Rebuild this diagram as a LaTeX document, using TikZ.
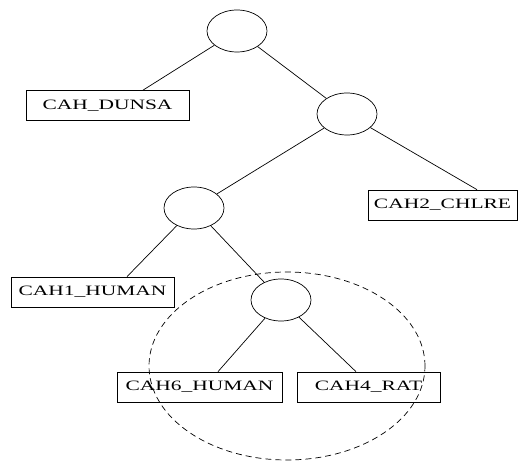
\documentclass[tikz,border=0pt]{standalone}
\usepackage{fontspec}
\setmainfont{Liberation Serif}
\newfontfamily\labelfont[FakeStretch=1.5]{Liberation Serif}
\usetikzlibrary{shapes.geometric}
\begin{document}
\begin{tikzpicture}[x=1pt,y=1pt,line width=0.7pt,
  inner/.style={draw,ellipse,minimum width=60pt,minimum height=42pt,inner sep=0pt},
  leaf/.style={draw,rectangle,minimum height=30pt,inner sep=0pt,font=\labelfont\fontsize{14.3}{16}\selectfont},
  edge/.style={draw},
  group/.style={draw,dashed,dash pattern=on 6pt off 4pt}]
\useasboundingbox (0,0) rectangle (528,-462);

% internal nodes of the tree
\node[inner] (root) at (237,-31) {};
\node[inner] (n2) at (347,-114) {};
\node[inner] (n3) at (194,-208) {};
\node[inner] (n4) at (281,-300) {};

% leaves
\node[leaf,minimum width=163pt] (dunsa) at (107.5,-105.5) {CAH\_DUNSA};
\node[leaf,minimum width=149pt] (chlre) at (442.5,-205) {CAH2\_CHLRE};
\node[leaf,minimum width=163pt] (cah1) at (92.5,-292) {CAH1\_HUMAN};
\node[leaf,minimum width=165pt] (cah6) at (199.5,-387) {CAH6\_HUMAN};
\node[leaf,minimum width=143pt] (rat) at (368.5,-387) {CAH4\_RAT};

% branches
\draw[edge] (root) -- ([xshift=35.5pt]dunsa.north);
\draw[edge] (root) -- (n2);
\draw[edge] (n2) -- (n3);
\draw[edge] (n2) -- ([xshift=34.5pt]chlre.north);
\draw[edge] (n3) -- ([xshift=34.5pt]cah1.north);
\draw[edge] (n3) -- (n4);
\draw[edge] (n4) -- ([xshift=18.5pt]cah6.north);
\draw[edge] (n4) -- ([xshift=-12.5pt]rat.north);

% highlighted subtree
\node[group,ellipse,minimum width=276pt,minimum height=188pt,inner sep=0pt] (sub) at (287,-366) {};
\end{tikzpicture}
\end{document}
